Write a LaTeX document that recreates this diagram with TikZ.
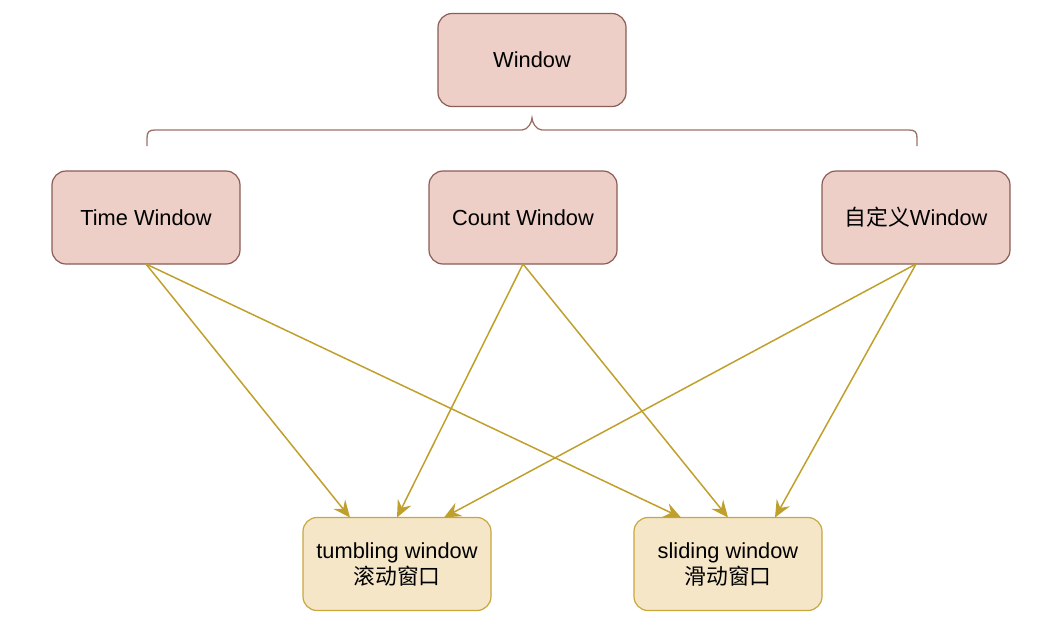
\documentclass[tikz,border=0pt]{standalone}
\usepackage{fontspec}
\setmainfont{Liberation Sans}
\newfontfamily\cjk{Noto Sans CJK SC}
\usetikzlibrary{arrows.meta,calc}
\definecolor{pinkfill}{RGB}{237,207,200}
\definecolor{pinkdraw}{RGB}{140,92,86}
\definecolor{yelfill}{RGB}{245,230,200}
\definecolor{yeldraw}{RGB}{201,166,62}
\definecolor{arrowc}{RGB}{192,160,44}
\definecolor{bracec}{RGB}{156,112,104}
\tikzset{
  basebox/.style={rounded corners=14pt, minimum width=188pt, minimum height=93pt, inner sep=0pt, outer sep=0pt, line width=1.2pt, align=center, font=\fontsize{21.8}{26}\selectfont},
  pinkbox/.style={basebox, fill=pinkfill, draw=pinkdraw},
  yelbox/.style={basebox, fill=yelfill, draw=yeldraw},
  link/.style={draw=arrowc, line width=1.5pt, -{Stealth[length=17pt,width=15pt,inset=6pt]}},
  bracepath/.style={draw=bracec, line width=1.3pt}
}
\begin{document}
\begin{tikzpicture}[x=1pt,y=-1pt]
\useasboundingbox (0,0) rectangle (1060,641);
\node[pinkbox] (win) at (532,60) {\raisebox{-2pt}{Window}};
\node[pinkbox] (time) at (146,217.5) {\raisebox{-2pt}{Time Window}};
\node[pinkbox] (count) at (523,217.5) {\raisebox{-2pt}{Count Window}};
\node[pinkbox] (custom) at (916,217.5) {\raisebox{-2pt}{{\cjk 自定义}Window}};
\node[yelbox] (tumb) at (397,564) {tumbling window\\{\cjk 滚动窗口}};
\node[yelbox] (slid) at (728,564) {sliding window\\{\cjk 滑动窗口}};
% brace
\coordinate (lowlev) at (0,146);
\coordinate (midlev) at (0,130);
\coordinate (toplev) at (0,118);
\coordinate (bl) at ($(time.north |- lowlev)+(1,0)$);
\coordinate (br) at ($(custom.north |- lowlev)+(1,0)$);
\coordinate (bt) at (win.south |- toplev);
\draw[bracepath] (bl) -- ++(0,-8) .. controls +(0,-6) and +(-6,0) .. ++(8,-8)
  -- ($(bt |- midlev)+(-10,0)$) .. controls +(6,0) and +(0,4) .. (bt)
  .. controls +(0,4) and +(-6,0) .. ($(bt |- midlev)+(10,0)$)
  -- ($(br |- midlev)+(-8,0)$) .. controls +(6,0) and +(0,-6) .. ($(br)+(0,-8)$) -- (br);
% arrows
\draw[link] (time.south) -- ($(tumb.north)+(-47,0)$);
\draw[link] (time.south) -- ($(slid.north)+(-47,0)$);
\draw[link] (count.south) -- (tumb.north);
\draw[link] (count.south) -- (slid.north);
\draw[link] (custom.south) -- ($(tumb.north)+(47,0)$);
\draw[link] (custom.south) -- ($(slid.north)+(47,0)$);
\end{tikzpicture}
\end{document}
